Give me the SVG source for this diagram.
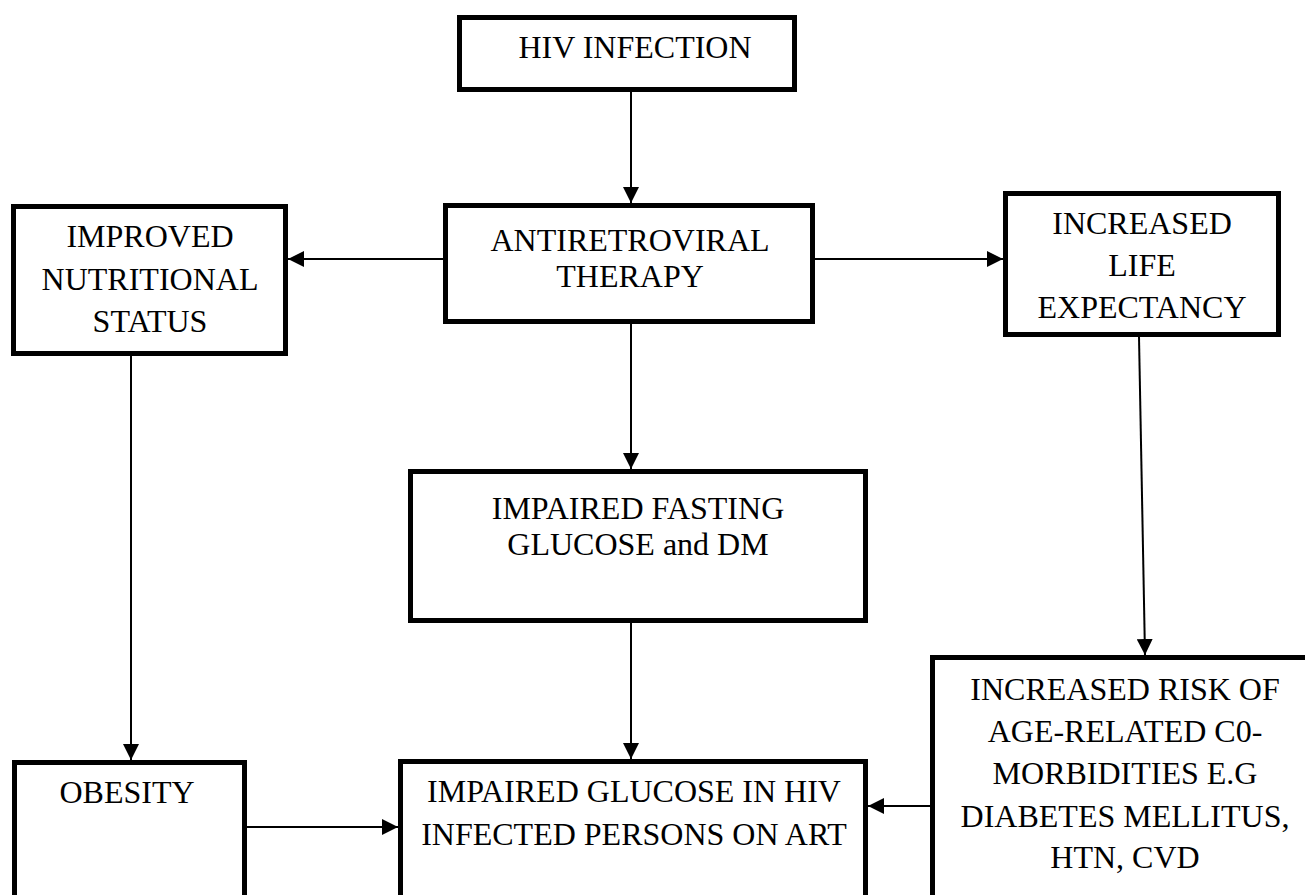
<svg xmlns="http://www.w3.org/2000/svg" width="1305" height="895" viewBox="0 0 1305 895">
<defs>
<marker id="ah" markerUnits="userSpaceOnUse" markerWidth="17" markerHeight="16" refX="16" refY="8" orient="auto">
<path d="M0,0 L16,8 L0,16 z" fill="#000"/>
</marker>
</defs>
<rect width="1305" height="895" fill="#fff"/>
<g id="connectors" stroke="#000" stroke-width="2" fill="none">
<line x1="631" y1="92" x2="631" y2="203" marker-end="url(#ah)"/>
<line x1="443" y1="259" x2="288" y2="259" marker-end="url(#ah)"/>
<line x1="815" y1="259" x2="1003" y2="259" marker-end="url(#ah)"/>
<line x1="631" y1="324" x2="631" y2="469" marker-end="url(#ah)"/>
<line x1="631" y1="623" x2="631" y2="759" marker-end="url(#ah)"/>
<line x1="131" y1="356" x2="131" y2="760" marker-end="url(#ah)"/>
<line x1="247" y1="827" x2="398" y2="827" marker-end="url(#ah)"/>
<line x1="1139" y1="337" x2="1145" y2="655" marker-end="url(#ah)"/>
<line x1="930" y1="806" x2="868" y2="806" marker-end="url(#ah)"/>
</g>
<g id="nodes">
<g id="hiv">
<rect fill="#fff" stroke="#000" stroke-width="5" x="459.5" y="17.5" width="335" height="72"/>
<text font-family="Liberation Serif" font-size="32" text-anchor="middle" x="635" y="58">HIV INFECTION</text>
</g>
<g id="art">
<rect fill="#fff" stroke="#000" stroke-width="5" x="445.5" y="205.5" width="367" height="116"/>
<text font-family="Liberation Serif" font-size="32" text-anchor="middle" x="630" y="251">ANTIRETROVIRAL</text>
<text font-family="Liberation Serif" font-size="32" text-anchor="middle" x="630" y="287">THERAPY</text>
</g>
<g id="nutrition">
<rect fill="#fff" stroke="#000" stroke-width="5" x="13.5" y="206.5" width="272" height="147"/>
<text font-family="Liberation Serif" font-size="32" text-anchor="middle" x="150" y="247">IMPROVED</text>
<text font-family="Liberation Serif" font-size="32" text-anchor="middle" x="150" y="290">NUTRITIONAL</text>
<text font-family="Liberation Serif" font-size="32" text-anchor="middle" x="150" y="332">STATUS</text>
</g>
<g id="life">
<rect fill="#fff" stroke="#000" stroke-width="5" x="1005.5" y="193.5" width="273" height="141"/>
<text font-family="Liberation Serif" font-size="32" text-anchor="middle" x="1142" y="234">INCREASED</text>
<text font-family="Liberation Serif" font-size="32" text-anchor="middle" x="1142" y="276">LIFE</text>
<text font-family="Liberation Serif" font-size="32" text-anchor="middle" x="1142" y="318">EXPECTANCY</text>
</g>
<g id="ifg">
<rect fill="#fff" stroke="#000" stroke-width="5" x="410.5" y="471.5" width="455" height="149"/>
<text font-family="Liberation Serif" font-size="32" text-anchor="middle" x="638" y="519">IMPAIRED FASTING</text>
<text font-family="Liberation Serif" font-size="32" text-anchor="middle" x="638" y="555">GLUCOSE and DM</text>
</g>
<g id="obesity">
<rect fill="#fff" stroke="#000" stroke-width="5" x="14.5" y="762.5" width="230" height="160"/>
<text font-family="Liberation Serif" font-size="32" text-anchor="middle" x="127" y="803">OBESITY</text>
</g>
<g id="glucose">
<rect fill="#fff" stroke="#000" stroke-width="5" x="400.5" y="761.5" width="465" height="160"/>
<text font-family="Liberation Serif" font-size="32" text-anchor="middle" x="634" y="802">IMPAIRED GLUCOSE IN HIV</text>
<text font-family="Liberation Serif" font-size="32" text-anchor="middle" x="634" y="845">INFECTED PERSONS ON ART</text>
</g>
<g id="risk">
<rect fill="#fff" stroke="#000" stroke-width="5" x="932.5" y="657.5" width="400" height="260"/>
<text font-family="Liberation Serif" font-size="32" text-anchor="middle" x="1125" y="700">INCREASED RISK OF</text>
<text font-family="Liberation Serif" font-size="32" text-anchor="middle" x="1125" y="742">AGE-RELATED C0-</text>
<text font-family="Liberation Serif" font-size="32" text-anchor="middle" x="1125" y="784">MORBIDITIES E.G</text>
<text font-family="Liberation Serif" font-size="32" text-anchor="middle" x="1125" y="827">DIABETES MELLITUS,</text>
<text font-family="Liberation Serif" font-size="32" text-anchor="middle" x="1125" y="868">HTN, CVD</text>
</g>
</g>
</svg>
